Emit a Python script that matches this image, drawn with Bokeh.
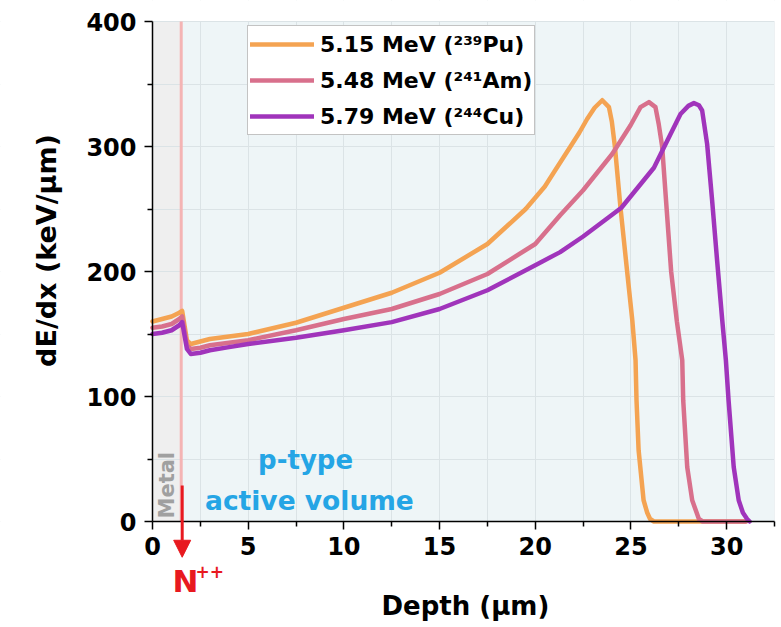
import math
from bokeh.plotting import figure
from bokeh.models import (Range1d, FixedTicker, Legend, LegendItem, BoxAnnotation,
                          Label, Arrow, NormalHead)
from bokeh.embed import file_html
from bokeh.resources import INLINE

# ---- data ----
pu_x = [0, 0.5, 1.0, 1.4, 1.55, 1.8, 2.0, 2.5, 3, 4, 5, 7.5, 10, 12.5, 15, 17.5, 18.5, 19.5, 20, 20.5,
        21.0, 21.84, 22.3, 22.71, 23.1, 23.5, 23.85, 24.0, 24.16, 24.45, 24.8, 25.07, 25.24, 25.29,
        25.4, 25.66, 25.85, 26.0, 26.2, 31.0]
pu_y = [160, 162, 164, 167, 168.5, 145, 142, 144, 146, 148, 150, 159, 171, 183, 199, 222, 236, 250, 259, 268,
        280, 300, 311, 322, 331, 337, 331.5, 320, 300, 251.5, 200, 161, 129, 97,
        57, 17, 7, 2, 0, 0]

am_x = [0, 0.5, 1.0, 1.4, 1.55, 1.8, 2.0, 2.5, 3, 4, 5, 7.5, 10, 12.5, 15, 17.5, 20, 21.3, 22.5,
        24.02, 24.98, 25.5, 25.94, 26.28, 26.45, 26.63, 27.1, 27.4, 27.68, 27.73, 27.94, 28.2, 28.55,
        28.75, 31.0]
am_y = [155, 156, 158, 162, 164, 141, 138, 139, 141, 143, 145, 153, 162, 170, 182, 198, 222, 245, 265,
        294, 317, 331.5, 335.5, 331.5, 318, 300, 200, 160, 129, 97, 43.5, 17, 2,
        0, 0]

cu_x = [0, 0.5, 1.0, 1.4, 1.55, 1.8, 2.0, 2.5, 3, 4, 5, 7.5, 10, 12.5, 15, 17.5, 20, 21.3, 22.5,
        24.5, 26.2, 27.07, 27.59, 28.0, 28.29, 28.55, 28.72, 28.98, 29.24, 29.5, 29.77, 29.96, 30.1,
        30.37, 30.63, 30.85, 31.07, 31.2]
cu_y = [150, 151, 153, 157, 159.5, 138, 134, 135, 137, 139.5, 142, 147, 153, 159.5, 170, 185, 205, 215.5, 228,
        251, 283, 310, 326, 332.5, 334.7, 333, 328.8, 302, 257, 209, 161, 129, 97,
        43.5, 17, 7, 2, 0]

series_labels = ["5.15 MeV (\u00b2\u00b3\u2079Pu)", "5.48 MeV (\u00b2\u2074\u00b9Am)", "5.79 MeV (\u00b2\u2074\u2074Cu)"]
series_colors = ["#f4a352", "#d8708c", "#a034bb"]

x_ticks = [0, 5, 10, 15, 20, 25, 30]
x_minor = [2.5, 7.5, 12.5, 17.5, 22.5, 27.5, 32.5]
y_ticks = [0, 100, 200, 300, 400]
y_minor = [50, 150, 250, 350]

x_max = 32.5
y_max = 400
metal_edge = 1.5

FONT = "DejaVu Sans"
RED = "#e8191f"
BLUE = "#25a5e5"

# The plot frame covers the whole canvas so that texts and marks outside the
# data area are not clipped; the axes are pinned at x=0 / y=0 (fixed_location)
p = figure(width=781, height=627, output_backend="svg", toolbar_location=None,
           x_range=Range1d(-7.942, 32.866), y_range=Range1d(-84.8, 416.8),
           min_border_left=0, min_border_right=0, min_border_top=0, min_border_bottom=0)

p.background_fill_color = "white"
p.border_fill_color = "white"
p.outline_line_color = None

# data-area background and Metal region
p.add_layout(BoxAnnotation(left=0, right=x_max, bottom=0, top=y_max, fill_color="#eef5f7",
                           fill_alpha=1.0, line_color=None, level="image"))
p.add_layout(BoxAnnotation(left=0, right=metal_edge, bottom=0, top=y_max, fill_color="#efefef",
                           fill_alpha=1.0, line_color=None, level="image"))

# grids
for g in (p.xgrid, p.ygrid):
    g.grid_line_color = "#dbe3e6"
    g.grid_line_width = 1
    g.minor_grid_line_color = "#dbe3e6"
    g.minor_grid_line_width = 1

# hide grid lines outside the data area
for kw in (dict(top=0), dict(right=0), dict(bottom=y_max + 0.5), dict(left=x_max)):
    p.add_layout(BoxAnnotation(fill_color="white", fill_alpha=1.0, line_color=None,
                               level="underlay", **kw))

p.xaxis.ticker = FixedTicker(ticks=x_ticks, minor_ticks=x_minor)
p.yaxis.ticker = FixedTicker(ticks=y_ticks, minor_ticks=y_minor)
p.xaxis.fixed_location = 0
p.yaxis.fixed_location = 0
p.xaxis.bounds = (0, x_max)
p.yaxis.bounds = (0, y_max)

for ax in (p.xaxis, p.yaxis):
    ax.axis_line_color = "black"
    ax.axis_line_width = 1.5
    ax.major_tick_line_color = "black"
    ax.major_tick_line_width = 1.5
    ax.minor_tick_line_color = "black"
    ax.minor_tick_line_width = 1.5
    ax.major_tick_out = 8
    ax.major_tick_in = 0
    ax.minor_tick_out = 5
    ax.minor_tick_in = 0
    ax.major_label_text_font = FONT
    ax.major_label_text_font_style = "bold"
    ax.major_label_text_font_size = "24px"
    ax.major_label_text_color = "black"

p.xaxis.major_label_standoff = 7
p.yaxis.major_label_standoff = 8

# N++ boundary line
p.segment(x0=[metal_edge], y0=[0], x1=[metal_edge], y1=[y_max], line_color="#f4b4b4", line_width=3)

renderers = []
for xs, ys, c in zip([pu_x, am_x, cu_x], [pu_y, am_y, cu_y], series_colors):
    r = p.line(xs, ys, line_color=c, line_width=4.5, line_join="round", line_cap="round")
    renderers.append(r)

legend = Legend(items=[LegendItem(label=l, renderers=[r]) for l, r in zip(series_labels, renderers)],
                location=(247, 492))
legend.label_text_font = FONT
legend.label_text_font_style = "bold"
legend.label_text_font_size = "22px"
legend.label_text_color = "black"
legend.glyph_width = 64
legend.glyph_height = 32
legend.label_standoff = 6
legend.spacing = 4
legend.padding = 2
legend.margin = 0
legend.border_line_color = "#888888"
legend.border_line_width = 1
legend.background_fill_color = "white"
legend.background_fill_alpha = 1.0
p.add_layout(legend)

# Axis titles
p.add_layout(Label(x=16.35, y=-67.2, text="Depth (\u00b5m)", text_font=FONT, text_font_style="bold",
                   text_font_size="26px", text_color="black", text_align="center",
                   text_baseline="alphabetic"))
p.add_layout(Label(x=-5.54, y=216.8, text="dE/dx (keV/\u00b5m)", angle=math.pi / 2, text_font=FONT,
                   text_font_style="bold", text_font_size="27px", text_color="black",
                   text_align="center", text_baseline="alphabetic"))

# Annotations
p.add_layout(Label(x=0.78, y=2.4, text="Metal", angle=math.pi / 2, text_font=FONT,
                   text_font_style="bold", text_font_size="21px", text_color="#a0a0a0",
                   text_align="left", text_baseline="alphabetic"))
p.add_layout(Label(x=8.0, y=49.6, text="p-type", text_font=FONT, text_font_style="bold",
                   text_font_size="26px", text_color=BLUE, text_align="center",
                   text_baseline="alphabetic"))
p.add_layout(Label(x=8.2, y=16.8, text="active volume", text_font=FONT, text_font_style="bold",
                   text_font_size="26.5px", text_color=BLUE, text_align="center",
                   text_baseline="alphabetic"))
p.add_layout(Arrow(x_start=1.552, y_start=28.8, x_end=1.552, y_end=-28.6,
                   line_color=RED, line_width=3,
                   end=NormalHead(size=17, fill_color=RED, line_color=RED)))
p.add_layout(Label(x=1.045, y=-47.2, text="N", text_font=FONT, text_font_style="bold",
                   text_font_size="31px", text_color=RED, text_align="left",
                   text_baseline="alphabetic"))
p.add_layout(Label(x=2.25, y=-40.0, text="++", text_font=FONT, text_font_style="bold",
                   text_font_size="17px", text_color=RED, text_align="left",
                   text_baseline="alphabetic"))

open("out.html", "w").write(file_html(p, INLINE))
